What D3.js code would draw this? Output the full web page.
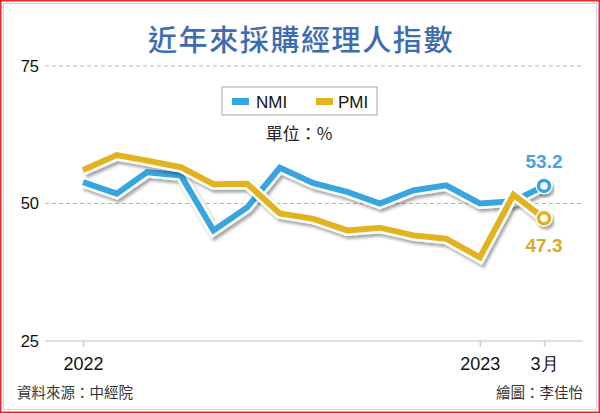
<!DOCTYPE html>
<html>
<head>
<meta charset="utf-8">
<script src="https://cdn.jsdelivr.net/npm/d3@7"></script>
<style>
html,body{margin:0;padding:0;background:#fff;}
svg{display:block;}
</style>
</head>
<body>
<script>
const months = ["2022-01","2022-02","2022-03","2022-04","2022-05","2022-06","2022-07","2022-08","2022-09","2022-10","2022-11","2022-12","2023-01","2023-02","2023-03"];
const nmiValues = [53.9,51.8,55.7,55.1,45.1,49.3,56.5,53.7,52.1,50.0,52.4,53.3,50.0,50.4,53.2];
const pmiValues = [56.1,58.8,57.8,56.6,53.5,53.6,48.2,47.2,45.1,45.6,44.2,43.6,40.2,51.6,47.3];
const yTicks = [25,50,75];
const xTickMonths = ["2022-01","2023-01","2023-03"];
const xTickLabels = ["2022","2023","3月"];
const seriesNames = ["NMI","PMI"];
const titleText = "近年來採購經理人指數";
const unitText = "單位：%";
const sourceText = "資料來源：中經院";
const creditText = "繪圖：李佳怡";

const W = 600, H = 413;
const blue = "#37a6df", gold = "#e2b21f";
const cjk = "'Noto Sans CJK TC','Noto Sans CJK SC',sans-serif";
const latin = "'Liberation Sans',Arial,sans-serif";

const svg = d3.select("body").append("svg").attr("width", W).attr("height", H);
const defs = svg.append("defs");
const f = defs.append("filter").attr("id","shadow").attr("x","-10%").attr("y","-10%").attr("width","120%").attr("height","130%");
f.append("feDropShadow").attr("dx",2).attr("dy",3).attr("stdDeviation",1.8).attr("flood-color","#000").attr("flood-opacity",0.35);

// frame
svg.append("rect").attr("x",0).attr("y",0).attr("width",W).attr("height",H).attr("fill","#fff");
svg.append("rect").attr("x",3.5).attr("y",3.5).attr("width",W-7).attr("height",H-7).attr("fill","none").attr("stroke","#c3d4ea").attr("stroke-width",1);
svg.append("rect").attr("x",0.75).attr("y",0.75).attr("width",W-1.5).attr("height",H-1.5).attr("fill","none").attr("stroke","#e8262b").attr("stroke-width",1.5);

const parse = d3.timeParse("%Y-%m");
const dates = months.map(parse);
const x = d3.scaleTime().domain([dates[0], dates[dates.length-1]]).range([83, 544]);
const y = d3.scaleLinear().domain([25, 75]).range([341, 66]);

// title
svg.append("text").attr("x",301).attr("y",51).attr("text-anchor","middle")
  .attr("font-family",cjk).attr("font-size",29).attr("font-weight",500).attr("letter-spacing",1.6)
  .attr("fill","#3e6cb2").text(titleText);

// gridlines (dashed for 50,75) and axis line for 25
const grid = svg.append("g");
yTicks.forEach(t => {
  if (t === 25) {
    grid.append("line").attr("x1",45).attr("x2",583).attr("y1",y(t)).attr("y2",y(t))
      .attr("stroke","#d4d4d4").attr("stroke-width",1.5);
  } else {
    grid.append("line").attr("x1",45).attr("x2",583).attr("y1",y(t)).attr("y2",y(t))
      .attr("stroke","#b5b5b5").attr("stroke-width",1).attr("stroke-dasharray","4,3");
  }
  grid.append("text").attr("x",39).attr("y",y(t)).attr("dy","0.36em").attr("text-anchor","end")
    .attr("font-family",latin).attr("font-size",16.5).attr("fill","#111").text(t);
});

// x axis ticks
const xAxis = d3.axisBottom(x)
  .tickValues(xTickMonths.map(parse))
  .tickSize(6).tickPadding(10)
  .tickFormat((d,i) => xTickLabels[i]);
const gx = svg.append("g").attr("transform",`translate(0,${y(25)})`).call(xAxis);
gx.select(".domain").remove();
gx.selectAll(".tick line").attr("stroke","#d0d0d0").attr("stroke-width",1.5);
gx.selectAll(".tick text").attr("font-family",latin).attr("font-size",18).attr("fill","#111");

// legend
const lg = svg.append("g");
lg.append("rect").attr("x",222).attr("y",87).attr("width",155).attr("height",28)
  .attr("fill","#fff").attr("stroke","#a8a8a8").attr("stroke-width",1);
[[blue,232,256],[gold,316,338]].forEach((c,i) => {
  lg.append("rect").attr("x",c[1]).attr("y",98).attr("width",17).attr("height",7).attr("fill",c[0]);
  lg.append("text").attr("x",c[2]).attr("y",108).attr("font-family",latin).attr("font-size",17)
    .attr("fill","#111").text(seriesNames[i]);
});
svg.append("text").attr("x",299).attr("y",140).attr("text-anchor","middle")
  .attr("font-family",cjk).attr("font-size",17).attr("fill","#222").text(unitText);

// lines
const line = d3.line().x((d,i)=>x(dates[i])).y(d=>y(d)).curve(d3.curveLinear);
function drawSeries(vals, color) {
  const g = svg.append("g");
  g.append("path").attr("d",line(vals)).attr("fill","none").attr("stroke","#fff")
    .attr("stroke-width",11).attr("stroke-linejoin","miter").attr("filter","url(#shadow)");
  g.append("path").attr("d",line(vals)).attr("fill","none").attr("stroke",color)
    .attr("stroke-width",6).attr("stroke-linejoin","miter");
  const lx = x(dates[dates.length-1]), ly = y(vals[vals.length-1]);
  g.append("circle").attr("cx",lx).attr("cy",ly).attr("r",8.5).attr("fill","#fff").attr("filter","url(#shadow)");
  g.append("circle").attr("cx",lx).attr("cy",ly).attr("r",5.5).attr("fill","#fff").attr("stroke",color).attr("stroke-width",3.5);
}
drawSeries(nmiValues, blue);
drawSeries(pmiValues, gold);

// end labels
const lastX = x(dates[dates.length-1]);
svg.append("text").attr("x",lastX).attr("y",168).attr("text-anchor","middle")
  .attr("font-family",latin).attr("font-size",19).attr("font-weight",700).attr("fill","#4aa3dc")
  .text(nmiValues[nmiValues.length-1].toFixed(1));
svg.append("text").attr("x",lastX).attr("y",252).attr("text-anchor","middle")
  .attr("font-family",latin).attr("font-size",19).attr("font-weight",700).attr("fill","#d9a928")
  .text(pmiValues[pmiValues.length-1].toFixed(1));

// footer
svg.append("text").attr("x",17).attr("y",398).attr("font-family",cjk).attr("font-size",14.5).attr("fill","#333").text(sourceText);
svg.append("text").attr("x",583).attr("y",398).attr("text-anchor","end").attr("font-family",cjk).attr("font-size",14.5).attr("fill","#333").text(creditText);
</script>
</body>
</html>
